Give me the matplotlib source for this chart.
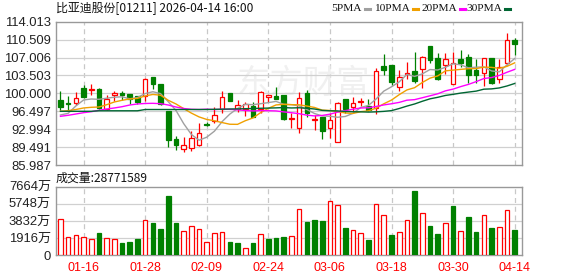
import numpy as np
import pandas as pd
import matplotlib
matplotlib.use("Agg")
import matplotlib.pyplot as plt

# ---------------- data ----------------
title = "比亚迪股份[01211] 2026-04-14 16:00"
opens = [98.70, 98.17, 98.17, 101.05, 100.71, 100.85, 97.00, 99.68, 100.07, 99.87,
         99.48, 99.54, 103.20, 101.83, 96.55, 91.01, 89.06, 89.25, 89.84, 94.01,
         94.53, 97.00, 100.13, 96.88, 97.00, 97.59, 96.94, 99.35, 99.54, 99.74,
         94.98, 93.17, 100.01, 94.73, 95.43, 93.17, 90.43, 98.84, 97.39, 98.37,
         97.53, 97.08, 105.35, 105.54, 101.18, 103.73, 104.37, 104.70, 109.26, 106.86,
         105.60, 101.77, 106.66, 107.05, 104.50, 104.04, 106.86, 102.75, 105.88, 110.43]
highs = [100.46, 99.48, 100.26, 101.69, 101.83, 101.05, 99.74, 100.40, 100.40, 99.87,
         99.48, 103.00, 103.20, 101.83, 96.55, 91.66, 91.40, 92.58, 94.20, 94.46,
         97.39, 100.52, 100.13, 98.70, 98.37, 98.37, 100.52, 99.62, 101.18, 99.74,
         96.16, 100.32, 100.66, 95.77, 95.43, 96.10, 98.37, 98.84, 99.35, 99.09,
         98.84, 105.02, 107.64, 105.54, 104.57, 106.19, 108.15, 107.31, 109.26, 107.95,
         107.95, 108.03, 108.48, 107.70, 106.66, 106.86, 106.86, 106.66, 111.86, 110.77]
lows = [96.74, 96.74, 97.72, 99.15, 99.68, 97.00, 96.74, 98.45, 98.64, 97.86,
        97.92, 98.56, 100.79, 97.72, 89.45, 88.92, 88.47, 88.78, 89.70, 93.56,
        94.14, 96.10, 98.45, 96.41, 95.63, 95.43, 96.22, 98.25, 98.90, 94.79,
        93.22, 92.19, 95.43, 92.83, 91.01, 91.21, 90.43, 96.10, 96.41, 97.53,
        96.61, 95.90, 103.59, 101.63, 100.52, 102.75, 101.97, 101.11, 105.88, 102.61,
        103.79, 101.77, 105.21, 101.97, 101.97, 101.44, 101.77, 102.08, 105.54, 107.50]
closes = [97.39, 97.86, 99.03, 99.35, 100.85, 97.08, 98.95, 100.01, 99.74, 98.84,
          98.37, 102.81, 101.83, 97.92, 90.88, 89.90, 89.92, 91.21, 92.25, 93.87,
          95.77, 99.29, 98.56, 97.72, 97.92, 95.43, 100.26, 99.62, 98.90, 95.04,
          95.12, 99.03, 96.10, 94.98, 92.70, 94.79, 98.05, 96.88, 98.05, 98.45,
          96.74, 104.37, 104.57, 102.28, 103.26, 104.04, 102.42, 107.05, 106.52, 102.81,
          106.66, 105.88, 105.99, 103.59, 103.50, 106.86, 101.97, 105.10, 110.43, 109.65]
prev_close = 97.0  # close before the first visible day (only used for volume colour)
volumes = [4018, 2009, 2232, 2009, 1786, 2493, 1897, 1786, 1339, 1488,
           1823, 3906, 3608, 2939, 6622, 3608, 2716, 3236, 2902, 1451,
           2455, 2567, 1488, 1376, 781, 1376, 2344, 1823, 1934, 2046,
           2120, 5134, 3720, 3943, 3832, 6026, 5580, 3050, 2827, 2455,
           1748, 5692, 4464, 2269, 2567, 3906, 7180, 4687, 3274, 2381,
           3571, 5506, 2678, 4278, 2604, 4464, 3050, 3125, 5022, 2877]  # 万股
last_volume_text = "28771589"

# moving-average values at the start of the window (earlier history not shown)
ma5_head = [95.77, 96.10, 97.53, 98.70]
ma10_head = [96.49, 96.61, 96.84, 97.14, 97.27, 97.33, 97.78, 98.31, 98.64]
ma20_head = [95.51, 95.71, 95.96, 96.22, 96.41, 96.69, 96.94, 97.14, 97.39, 97.72,
             97.92, 98.02, 98.05, 97.98, 97.72, 97.33, 97.04, 96.88, 96.84]
ma30_head = [96.49, 96.49, 96.49, 96.49, 96.49, 96.59, 96.59, 96.59, 96.59, 96.59,
             96.59, 96.84, 96.84, 96.84, 96.84, 96.84, 96.84, 96.84, 96.84, 96.84,
             96.88, 96.90, 96.94, 96.96, 97.00, 97.04, 97.08, 97.12, 97.16]

price_ticks = [114.013, 110.509, 107.006, 103.503, 100.000, 96.497, 92.994, 89.491, 85.987]
vol_ticks = [7664, 5748, 3832, 1916, 0]
vol_tick_labels = ["7664万", "5748万", "3832万", "1916万", "0"]
date_labels = ["01-16", "01-28", "02-09", "02-24", "03-06", "03-18", "03-30", "04-14"]
date_idx = [3, 11, 19, 27, 35, 43, 51, 59]

ma_names = ["5PMA", "10PMA", "20PMA", "30PMA"]
ma_colors = ["#a0a0a0", "#f0a000", "#ff00ff", "#006633"]

# ---------------- figure ----------------
W, H = 578, 276
fig = plt.figure(figsize=(W / 100, H / 100), dpi=100)
fig.patch.set_facecolor("white")

def fbox(l, t, r, b):
    return [l / W, 1 - b / H, (r - l) / W, (b - t) / H]

ax = fig.add_axes(fbox(55.7, 21.7, 522.3, 165))
axv = fig.add_axes(fbox(55.7, 186.7, 522.3, 255.3))

n = len(closes)
x = np.arange(n)
o = np.array(opens); c = np.array(closes); hi = np.array(highs); lo = np.array(lows)
RED = "#ff0000"; GREEN = "#008000"
num_font = ["Liberation Sans", "Noto Sans CJK SC"]
cjk_font = ["Noto Sans CJK SC", "DejaVu Sans"]

xlim = (-0.62, 59.99)
for a in (ax, axv):
    a.set_xlim(*xlim)
    for s in a.spines.values():
        s.set_color("#999999")
        s.set_linewidth(1.0)
    a.tick_params(length=0)
    for xi in date_idx:
        a.axvline(xi, color="#c8c8c8", lw=0.9, ls=(0, (4, 3)), zorder=0)

# watermark
ax.text(0.53, 0.57, "东方财富", transform=ax.transAxes, fontsize=24, color="#f0f0f0",
        family=cjk_font, ha="center", va="center", style="italic", zorder=0)

# main price panel
ax.set_ylim(price_ticks[-1], price_ticks[0])
ax.set_yticks(price_ticks)
ax.set_yticklabels([f"{v:.3f}" for v in price_ticks], family=num_font, fontsize=9.4, color="#222222")
ax.set_xticks([])
for yv in price_ticks[1:-1]:
    ax.axhline(yv, color="#d0d0d0", lw=0.9, zorder=0)

bw = 0.6
up = c >= o
for i in range(n):
    top, bot = max(o[i], c[i]), min(o[i], c[i])
    if up[i]:
        ax.vlines(x[i], top, hi[i], color=RED, lw=0.9, zorder=3)
        ax.vlines(x[i], lo[i], bot, color=RED, lw=0.9, zorder=3)
        ax.bar(x[i], max(top - bot, 0.05), bottom=bot, width=bw, facecolor="white",
               edgecolor=RED, lw=0.9, zorder=4)
    else:
        ax.vlines(x[i], lo[i], hi[i], color=GREEN, lw=0.9, zorder=3)
        ax.bar(x[i], max(top - bot, 0.05), bottom=bot, width=bw, facecolor=GREEN,
               edgecolor=GREEN, lw=0.9, zorder=4)

s = pd.Series(closes)
heads = [ma5_head, ma10_head, ma20_head, ma30_head]
for win, head, col in zip([5, 10, 20, 30], heads, ma_colors):
    ma = s.rolling(win).mean().to_numpy()
    ma[:win - 1] = head
    ax.plot(x, ma, color=col, lw=1.0, zorder=5)

# volume panel
vol = np.array(volumes)
prevs = np.concatenate([[prev_close], c[:-1]])
vup = c >= prevs
for i in range(n):
    if vup[i]:
        axv.bar(x[i], vol[i], width=bw, facecolor="white", edgecolor=RED, lw=0.9, zorder=3)
    else:
        axv.bar(x[i], vol[i], width=bw, facecolor=GREEN, edgecolor=GREEN, lw=0.9, zorder=3)
axv.set_ylim(0, vol_ticks[0])
axv.set_yticks(vol_ticks)
axv.set_yticklabels(vol_tick_labels, family=num_font, fontsize=9.4, color="#222222")
for yv in vol_ticks[1:-1]:
    axv.axhline(yv, color="#d0d0d0", lw=0.9, zorder=0)
axv.set_xticks(date_idx)
axv.set_xticklabels(date_labels, family=num_font, fontsize=9, color=RED)
axv.tick_params(axis="x", pad=5)

# header texts
fig.text(56 / W, 1 - 8.5 / H, title, family=cjk_font, fontsize=8.6, color="#111111",
         ha="left", va="center")
fig.text(56 / W, 1 - 178 / H, "成交量:" + last_volume_text, family=cjk_font, fontsize=8.6,
         color="#111111", ha="left", va="center")

# legend: label ends just before a short coloured dash
dash_x = [365, 413, 460, 505]
for dx, name, col in zip(dash_x, ma_names, ma_colors):
    fig.text((dx - 3) / W, 1 - 8.5 / H, name, family=["Liberation Serif"], fontsize=8.2,
             color="#111111", ha="right", va="center")
    fig.add_artist(plt.Line2D([dx / W, (dx + 5) / W], [1 - 8.5 / H, 1 - 8.5 / H],
                              color=col, lw=2.2, transform=fig.transFigure))

fig.savefig("out.png", dpi=100, facecolor="white")
